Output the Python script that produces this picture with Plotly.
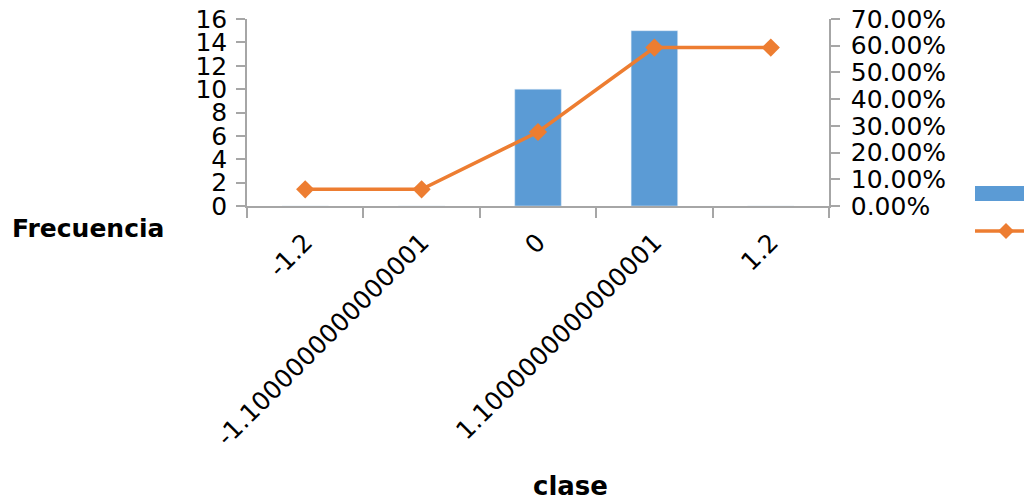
import plotly.graph_objects as go

categories = ["-1.2", "-1.1000000000000001", "0", "1.1000000000000001", "1.2"]
frecuencia = [0, 0, 10, 15, 0]
acumulado = [0.0625, 0.0625, 0.277, 0.593, 0.593]
left_ticks = list(range(0, 17, 2))
right_ticks = [i / 10 for i in range(0, 8)]

FONT = "DejaVu Sans"
AX = "#A6A6A6"
# the page body has an 8px margin; compensate so the picture matches
OFF = 8
PL, PT, PW, PH = 247 - OFF, 19 - OFF, 582, 187
W, H = 1032 - OFF, 503 - OFF


def px(xp):
    return (xp - 247) / PW


def py(yp):
    return (206 - yp) / PH


fig = go.Figure()
fig.add_trace(go.Bar(x=categories, y=frecuencia, name="Frecuencia",
                     marker=dict(color="#5B9BD5"), yaxis="y"))
fig.add_trace(go.Scatter(x=categories, y=acumulado, name="% acumulado", yaxis="y2",
                         mode="lines+markers",
                         line=dict(color="#ED7D31", width=3.5),
                         marker=dict(symbol="diamond", size=14, color="#ED7D31")))

fig.update_layout(
    width=W, height=H,
    margin=dict(l=PL, r=W - PL - PW, t=PT, b=H - PT - PH, autoexpand=False),
    paper_bgcolor="white", plot_bgcolor="white",
    showlegend=False,
    bargap=0.6,
    font=dict(family=FONT, size=25, color="black"),
    xaxis=dict(type="category", tickangle=-45, tickson="boundaries",
               showline=True, linecolor=AX, linewidth=1.5,
               ticks="outside", ticklen=10, tickcolor=AX, tickwidth=1.5,
               ticklabelstandoff=10, ticklabeloverflow="allow",
               showgrid=False, zeroline=False, tickfont=dict(size=25)),
    yaxis=dict(range=[0, 16], tickvals=left_ticks, showline=True, linecolor=AX, linewidth=1.5,
               ticks="outside", ticklen=9, tickcolor=AX, tickwidth=1.5,
               ticklabelstandoff=4, ticklabeloverflow="allow",
               showgrid=False, zeroline=False, tickfont=dict(size=25)),
    yaxis2=dict(range=[0, 0.7], tickvals=right_ticks, tickformat=".2%", overlaying="y",
                side="right", showline=True, linecolor=AX, linewidth=1.5,
                ticks="outside", ticklen=9, tickcolor=AX, tickwidth=1.5,
                ticklabelstandoff=6, ticklabeloverflow="allow",
                showgrid=False, zeroline=False, tickfont=dict(size=25)),
)

fig.add_annotation(text="<b>Frecuencia</b>", xref="paper", yref="paper",
                   x=px(88), y=py(228), xanchor="center", yanchor="middle",
                   showarrow=False, font=dict(size=25, family=FONT))
fig.add_annotation(text="<b>clase</b>", xref="paper", yref="paper",
                   x=px(570), y=py(486), xanchor="center", yanchor="middle",
                   showarrow=False, font=dict(size=26, family=FONT))

# legend swatches (cut off at the right edge as in the reference)
fig.add_shape(type="rect", xref="paper", yref="paper",
              x0=px(975), x1=px(1045), y0=py(201), y1=py(186),
              fillcolor="#5B9BD5", line=dict(width=0))
fig.add_shape(type="line", xref="paper", yref="paper",
              x0=px(975), x1=px(1045), y0=py(231), y1=py(231),
              line=dict(color="#ED7D31", width=3.5))
fig.add_shape(type="path", xref="paper", yref="paper",
              xsizemode="pixel", ysizemode="pixel",
              xanchor=px(1006), yanchor=py(231),
              path="M -8 0 L 0 8 L 8 0 L 0 -8 Z",
              fillcolor="#ED7D31", line=dict(width=0))

fig.write_html("out.html")
